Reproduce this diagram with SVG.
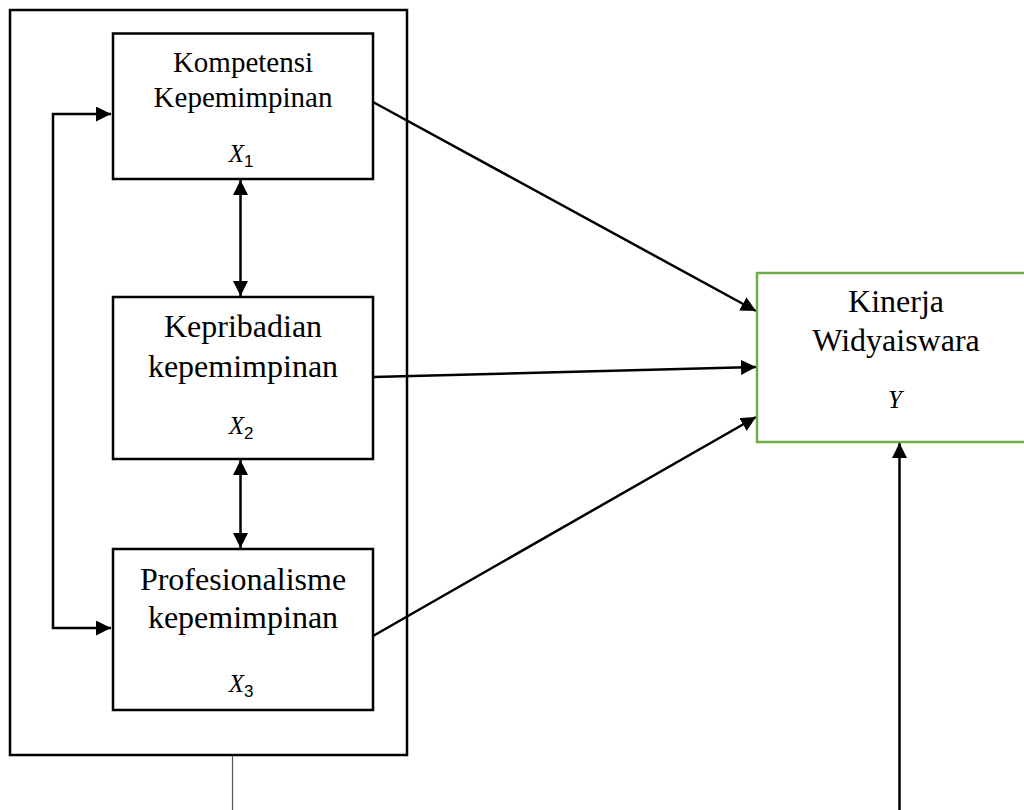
<svg xmlns="http://www.w3.org/2000/svg" width="1024" height="810" viewBox="0 0 1024 810">
<defs>
<marker id="ah" markerWidth="15" markerHeight="15" refX="15" refY="7.5" orient="auto-start-reverse" markerUnits="userSpaceOnUse">
<path d="M0,0 L15,7.5 L0,15 Z" fill="#000"/>
</marker>
<style>
.box{fill:#fff;stroke:#000;stroke-width:2.5}
.ybox{fill:#fff;stroke:#70AD47;stroke-width:2.5}
.t{font-family:"Liberation Serif","Times New Roman",serif;font-size:32px;fill:#000;text-anchor:middle}
.t1{font-size:29px}
.m{font-family:"Liberation Serif","Times New Roman",serif;font-size:25px;font-style:italic;fill:#000;text-anchor:middle}
.sub{font-family:"Liberation Sans",Arial,sans-serif;font-style:normal;font-size:17px}
.c{fill:none;stroke:#000;stroke-width:2.5}
</style>
</defs>
<rect width="1024" height="810" fill="#fff"/>
<g id="frame">
<rect x="10" y="10" width="397" height="745" class="box"/>
</g>
<g id="connectors">
<polyline points="111,114 53,114 53,628 111,628" class="c" marker-start="url(#ah)" marker-end="url(#ah)"/>
<line x1="240.5" y1="180" x2="240.5" y2="296" class="c" marker-start="url(#ah)" marker-end="url(#ah)"/>
<line x1="240.5" y1="460" x2="240.5" y2="548" class="c" marker-start="url(#ah)" marker-end="url(#ah)"/>
<line x1="373" y1="102" x2="756" y2="311" class="c" marker-end="url(#ah)"/>
<line x1="373" y1="377" x2="756" y2="367" class="c" marker-end="url(#ah)"/>
<line x1="373" y1="636" x2="756" y2="417" class="c" marker-end="url(#ah)"/>
<line x1="899.5" y1="810" x2="899.5" y2="443" class="c" marker-end="url(#ah)"/>
<line x1="232.5" y1="756" x2="232.5" y2="810" stroke="#555" stroke-width="1.2"/>
</g>
<g id="x1">
<rect x="113" y="33.5" width="260" height="145.5" class="box"/>
<text x="243" y="72" class="t t1">Kompetensi</text>
<text x="243" y="107" class="t t1">Kepemimpinan</text>
<text x="241" y="162" class="m">X<tspan class="sub" dy="5">1</tspan></text>
</g>
<g id="x2">
<rect x="113" y="297" width="260" height="162" class="box"/>
<text x="243" y="337" class="t">Kepribadian</text>
<text x="243" y="377" class="t">kepemimpinan</text>
<text x="241" y="434" class="m">X<tspan class="sub" dy="5">2</tspan></text>
</g>
<g id="x3">
<rect x="113" y="549" width="260" height="161" class="box"/>
<text x="243" y="590" class="t">Profesionalisme</text>
<text x="243" y="628" class="t">kepemimpinan</text>
<text x="241" y="692" class="m">X<tspan class="sub" dy="5">3</tspan></text>
</g>
<g id="y">
<rect x="757" y="273" width="280" height="169" class="ybox"/>
<text x="896" y="312" class="t">Kinerja</text>
<text x="896" y="351" class="t">Widyaiswara</text>
<text x="895" y="408" class="m">Y</text>
</g>
</svg>
